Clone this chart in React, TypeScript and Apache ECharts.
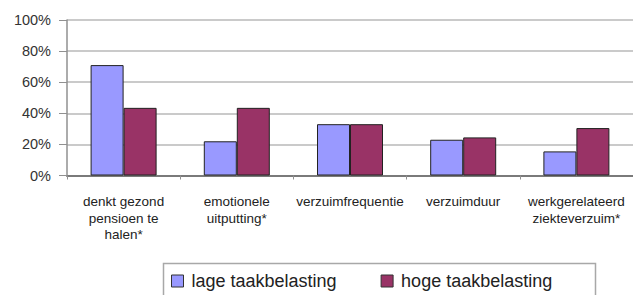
import React, { useEffect, useRef } from "react";
import * as echarts from "echarts";

const categories = [
  "denkt gezond\npensioen te\nhalen*",
  "emotionele\nuitputting*",
  "verzuimfrequentie",
  "verzuimduur",
  "werkgerelateerd\nziekteverzuim*",
];
const lageValues = [71, 22, 33, 23, 15.5];
const hogeValues = [43.5, 43.5, 33, 24.5, 30.5];
const seriesNames = ["lage taakbelasting", "hoge taakbelasting"];

const FONT = "Liberation Sans, Arial, sans-serif";

export default function App() {
  const ref = useRef<HTMLDivElement>(null);
  useEffect(() => {
    if (!ref.current) return;
    const chart = echarts.init(ref.current, undefined, { renderer: "svg" });
    chart.setOption({
      animation: false,
      backgroundColor: "#ffffff",
      textStyle: { fontFamily: FONT },
      grid: { left: 67, top: 20, width: 570, height: 155.5 },
      legend: {
        left: 171,
        top: 272,
        itemWidth: 12,
        itemHeight: 12,
        itemGap: 44,
        icon: "rect",
        padding: 0,
        textStyle: {
          fontSize: 18,
          color: "#222",
          fontFamily: FONT,
          padding: [0, 0, 0, 3],
        },
        itemStyle: { borderColor: "#333", borderWidth: 1 },
        data: seriesNames,
      },
      graphic: [
        {
          type: "rect",
          shape: { x: 163.5, y: 263.5, width: 432, height: 40 },
          style: { fill: "none", stroke: "#a8a8a8", lineWidth: 1.5 },
          z: -1,
        },
      ],
      xAxis: {
        type: "category",
        data: categories,
        axisLine: { lineStyle: { color: "#7a7a7a", width: 2 } },
        axisTick: { show: true, length: 4, lineStyle: { color: "#909090" } },
        axisLabel: {
          margin: 18,
          fontSize: 13.5,
          lineHeight: 16.5,
          color: "#222",
          fontFamily: FONT,
          interval: 0,
        },
      },
      yAxis: {
        type: "value",
        min: 0,
        max: 100,
        interval: 20,
        axisLine: { show: true, lineStyle: { color: "#909090", width: 1.5 } },
        axisTick: { show: true, length: 8, lineStyle: { color: "#909090" } },
        axisLabel: {
          formatter: "{value}%",
          fontSize: 14.5,
          color: "#333",
          margin: 16,
          fontFamily: FONT,
        },
        splitLine: { lineStyle: { color: "#b8b8b8", width: 1.5 } },
      },
      series: [
        {
          name: seriesNames[0],
          type: "bar",
          data: lageValues,
          barWidth: 33,
          barGap: "0%",
          itemStyle: { color: "#9999ff", borderColor: "#222", borderWidth: 1 },
        },
        {
          name: seriesNames[1],
          type: "bar",
          data: hogeValues,
          barWidth: 33,
          barGap: "0%",
          itemStyle: { color: "#993366", borderColor: "#222", borderWidth: 1 },
        },
      ],
    });
    return () => chart.dispose();
  }, []);
  return (
    <div
      ref={ref}
      style={{ position: "fixed", left: 0, top: 0, width: 633, height: 295 }}
    />
  );
}
